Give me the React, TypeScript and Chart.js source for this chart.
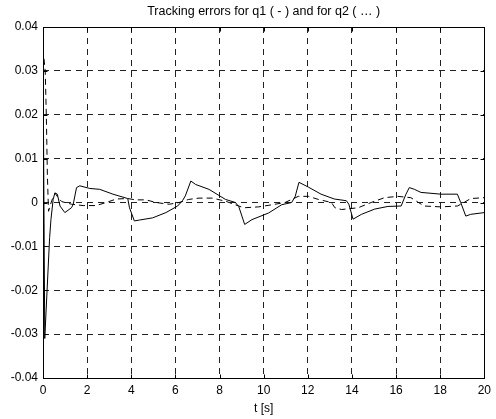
import React, { useEffect, useRef } from "react";
import { Chart, registerables } from "chart.js";

Chart.register(...registerables);

const TITLE = "Tracking errors for q1 ( - ) and for q2 ( … )";
const X_LABEL = "t [s]";

const q1Time = [0, 0.08, 0.3, 0.36, 0.46, 0.54, 0.65, 0.77, 0.99, 1.29, 1.37, 1.52, 1.67, 2.12, 2.57, 3.17, 3.84, 3.92, 4.14, 4.37, 4.97, 5.57, 6.1, 6.32, 6.45, 6.7, 6.92, 7.52, 8.27, 8.72, 8.87, 9.14, 9.47, 10.22, 10.82, 11.27, 11.43, 11.6, 12.03, 12.6, 13.2, 13.75, 13.86, 14.05, 14.43, 15.03, 15.63, 16.23, 16.45, 16.6, 16.83, 17.13, 18.03, 18.78, 18.93, 19.16, 19.38, 20];
const q1Error = [0.035, -0.031, -0.008, -0.0039, 0.0007, 0.0022, 0.0019, -0.0008, -0.0023, -0.0012, -0.0004, 0.0034, 0.0038, 0.0032, 0.003, 0.0019, 0.0009, -0.0012, -0.0042, -0.004, -0.0035, -0.0023, -0.0008, 0.0004, 0.0015, 0.0049, 0.0041, 0.003, 0.0007, 0, -0.0009, -0.005, -0.0039, -0.0024, -0.0005, 0, 0.0014, 0.0046, 0.0035, 0.0019, 0.0008, 0.0004, -0.0004, -0.0038, -0.0027, -0.0015, -0.0009, -0.0008, 0.0019, 0.0034, 0.003, 0.0023, 0.0019, 0.0019, 0, -0.0031, -0.0027, -0.0023];

const q2Time = [0, 0.1, 0.15, 0.2, 0.25, 0.4, 0.55, 0.7, 0.85, 1.3, 1.82, 2.4, 2.87, 3.32, 3.84, 4.2, 4.67, 5.12, 5.72, 6.17, 6.6, 7.07, 7.67, 8.27, 8.7, 9.1, 9.77, 10.4, 10.97, 11.57, 12.03, 12.48, 13.07, 13.23, 13.53, 14.28, 14.87, 15.48, 16.08, 16.67, 17.27, 18.03, 18.78, 19.08, 19.38, 20];
const q2Error = [0.035, 0.03, 0.02, 0.006, -0.002, 0.0005, 0.0021, 0.001, 0.0002, -0.0004, -0.0007, -0.0007, 0, 0.0008, 0.0009, 0.0006, 0.0006, 0, -0.0004, 0, 0.0007, 0.001, 0.001, 0.0003, -0.0005, -0.0012, -0.001, -0.0005, 0, 0.0014, 0.0014, 0.0007, 0, -0.0012, -0.0016, -0.0012, 0, 0.0011, 0.0014, 0.0011, -0.0008, -0.001, -0.0008, 0, 0.0009, 0.0011];

const X_MIN = 0;
const X_MAX = 20;
const X_STEP = 2;
const Y_MIN = -0.04;
const Y_MAX = 0.04;
const Y_STEP = 0.01;

const FONT = "'Liberation Sans', Arial, sans-serif";

const boxPlugin = {
  id: "matlabBox",
  afterDraw(chart: any) {
    const { ctx, chartArea } = chart;
    const xs = chart.scales.x;
    const ys = chart.scales.y;
    const { left, right, top, bottom } = chartArea;
    ctx.save();
    ctx.strokeStyle = "#000";
    ctx.lineWidth = 1;
    ctx.setLineDash([]);
    const L = Math.round(left) + 0.5;
    const R = Math.round(right) + 0.5;
    const T = Math.round(top) + 0.5;
    const B = Math.round(bottom) + 0.5;
    ctx.strokeRect(L, T, R - L, B - T);
    const tl = 4;
    ctx.beginPath();
    xs.ticks.forEach((t: any) => {
      const px = Math.round(xs.getPixelForValue(t.value)) + 0.5;
      ctx.moveTo(px, B);
      ctx.lineTo(px, B - tl);
      ctx.moveTo(px, T);
      ctx.lineTo(px, T + tl);
    });
    ys.ticks.forEach((t: any) => {
      const py = Math.round(ys.getPixelForValue(t.value)) + 0.5;
      ctx.moveTo(L, py);
      ctx.lineTo(L + tl, py);
      ctx.moveTo(R, py);
      ctx.lineTo(R - tl, py);
    });
    ctx.stroke();
    // title centred over the plot box
    ctx.fillStyle = "#000";
    ctx.font = `12.5px ${FONT}`;
    ctx.textAlign = "center";
    ctx.textBaseline = "middle";
    ctx.fillText(TITLE, (left + right) / 2, 12);
    ctx.restore();
  },
};

export default function App() {
  const ref = useRef<HTMLCanvasElement>(null);

  useEffect(() => {
    if (!ref.current) return;
    const chart = new Chart(ref.current, {
      type: "line",
      data: {
        datasets: [
          {
            label: "q1",
            data: q1Time.map((t, i) => ({ x: t, y: q1Error[i] })),
            borderColor: "#000",
            borderWidth: 1,
            pointRadius: 0,
            fill: false,
            tension: 0,
          },
          {
            label: "q2",
            data: q2Time.map((t, i) => ({ x: t, y: q2Error[i] })),
            borderColor: "#000",
            borderWidth: 1,
            borderDash: [6, 4],
            pointRadius: 0,
            fill: false,
            tension: 0,
          },
        ],
      },
      options: {
        responsive: false,
        animation: false,
        layout: { padding: { left: 0, right: 9, top: 27, bottom: 0 } },
        plugins: {
          legend: { display: false },
          tooltip: { enabled: false },
          title: { display: false },
        },
        scales: {
          x: {
            type: "linear",
            min: X_MIN,
            max: X_MAX,
            afterFit: (s: any) => {
              s.height = 41;
            },
            ticks: {
              stepSize: X_STEP,
              autoSkip: false,
              maxRotation: 0,
              color: "#000",
              padding: 5,
              font: { family: FONT, size: 12 },
            },
            grid: {
              color: "#222",
              lineWidth: 1,
              drawTicks: false,
            },
            border: { display: false, dash: [6, 5] },
            title: {
              display: true,
              text: X_LABEL,
              color: "#000",
              font: { family: FONT, size: 12 },
              padding: { top: 0, bottom: 3 },
            },
          },
          y: {
            type: "linear",
            min: Y_MIN,
            max: Y_MAX,
            afterFit: (s: any) => {
              s.width = 43;
            },
            ticks: {
              stepSize: Y_STEP,
              color: "#000",
              padding: 5,
              font: { family: FONT, size: 12 },
              callback: (v: any) => String(Number(Number(v).toFixed(2))),
            },
            grid: {
              color: "#222",
              lineWidth: 1,
              drawTicks: false,
            },
            border: { display: false, dash: [6, 5] },
          },
        },
      },
      plugins: [boxPlugin],
    });
    return () => chart.destroy();
  }, []);

  return (
    <div style={{ position: "absolute", left: 0, top: 0, width: 496, height: 419, background: "#fff" }}>
      <canvas ref={ref} width={496} height={419} />
    </div>
  );
}
